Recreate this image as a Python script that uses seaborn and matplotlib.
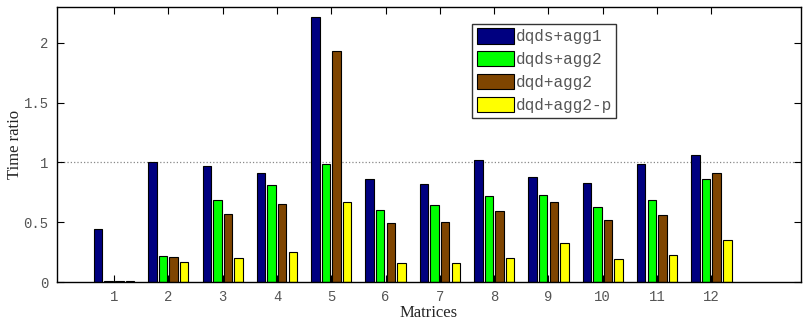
import pandas as pd
import matplotlib
matplotlib.use('Agg')
import matplotlib.pyplot as plt
import seaborn as sns

matrices = [str(i) for i in range(1, 13)]
methods = ['dqds+agg1', 'dqds+agg2', 'dqd+agg2', 'dqd+agg2-p']
dqds_agg1 = [0.44, 1.00, 0.97, 0.91, 2.22, 0.86, 0.82, 1.02, 0.88, 0.83, 0.99, 1.06]
dqds_agg2 = [0.01, 0.22, 0.69, 0.81, 0.99, 0.60, 0.64, 0.72, 0.73, 0.63, 0.69, 0.86]
dqd_agg2 = [0.01, 0.21, 0.57, 0.65, 1.93, 0.49, 0.50, 0.59, 0.67, 0.52, 0.56, 0.91]
dqd_agg2_p = [0.01, 0.17, 0.20, 0.25, 0.67, 0.16, 0.16, 0.20, 0.33, 0.195, 0.23, 0.35]
colors = ['#000080', '#00ff00', '#7f4500', '#ffff00']

df = pd.DataFrame({'Matrices': matrices * 4,
                   'method': sum([[m] * 12 for m in methods], []),
                   'ratio': dqds_agg1 + dqds_agg2 + dqd_agg2 + dqd_agg2_p})

sns.set_style('white')
mono = 'Liberation Mono'
serif = 'Liberation Serif'

fig = plt.figure(figsize=(8.08, 3.2), dpi=100)
ax = fig.add_axes([57 / 808, 38 / 320, 744 / 808, 275 / 320])

sns.barplot(data=df, x='Matrices', y='ratio', hue='method', hue_order=methods,
            palette=colors, width=0.78, gap=0.2, edgecolor='black',
            linewidth=0.8, saturation=1, ax=ax)

ax.axhline(1, color='#888888', linestyle=':', linewidth=0.9, zorder=0)
ax.set_xlim(-1.05, 12.65)
ax.set_ylim(0, 2.3)
ax.set_yticks([0, 0.5, 1, 1.5, 2])
ax.set_yticklabels(['0', '0.5', '1', '1.5', '2'])

for s in ax.spines.values():
    s.set_color('black')
    s.set_linewidth(1.0)
ax.tick_params(direction='in', length=5, width=0.8, top=True, right=True,
               bottom=True, left=True, colors='black', labelcolor='#555555',
               labelsize=10)
for lab in ax.get_xticklabels() + ax.get_yticklabels():
    lab.set_fontfamily(mono)
ax.tick_params(axis='x', pad=6)
ax.tick_params(axis='y', pad=6)

ax.set_xlabel('Matrices', fontfamily=serif, fontsize=12)
ax.xaxis.set_label_coords(0.5, -0.085)
ax.set_ylabel('Time ratio', fontfamily=serif, fontsize=12, va='center')
ax.yaxis.set_label_coords(-0.057, 0.5)

leg = ax.legend(loc='upper right', bbox_to_anchor=(0.752, 0.94),
                prop={'family': mono, 'size': 11.5}, frameon=True, fancybox=False,
                handlelength=2.3, handleheight=1.1, handletextpad=0.1,
                labelspacing=0.42, borderpad=0.3, borderaxespad=0)
leg.get_frame().set_edgecolor('black')
leg.get_frame().set_linewidth(1.0)
for t in leg.get_texts():
    t.set_color('#555555')

fig.savefig('out.png', dpi=100)
